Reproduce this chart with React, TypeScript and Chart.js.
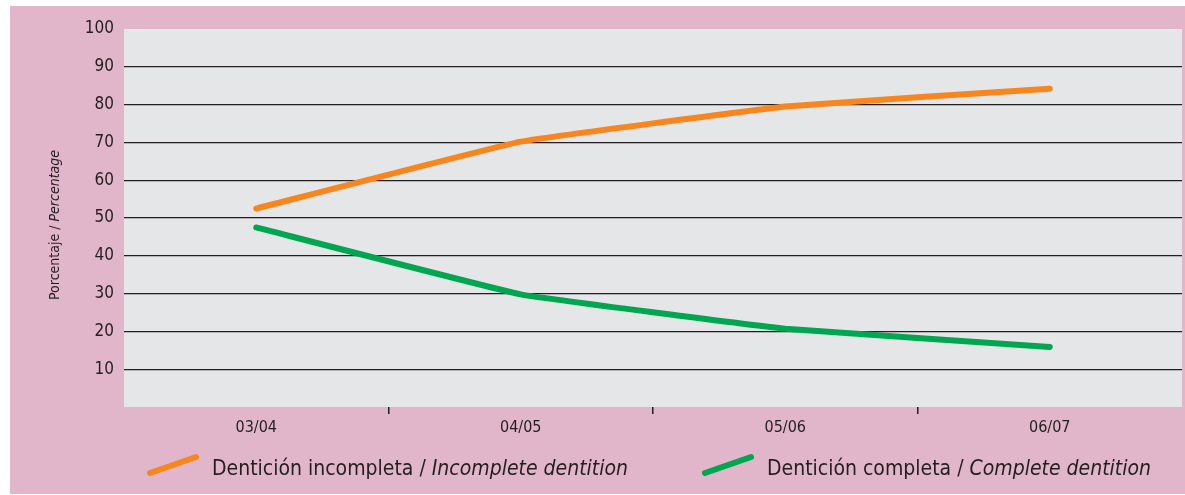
import React, { useEffect, useRef } from "react";
import { Chart, registerables } from "chart.js";

Chart.register(...registerables);

const categories = ["03/04", "04/05", "05/06", "06/07"];
const incompleta = [52.5, 70.2, 79.5, 84.2];
const completa = [47.5, 29.8, 20.7, 15.9];
const yTicks = [10, 20, 30, 40, 50, 60, 70, 80, 90, 100];
const legendItems = [
  { es: "Dentición incompleta / ", en: "Incomplete dentition", color: "#f7861f" },
  { es: "Dentición completa / ", en: "Complete dentition", color: "#00a650" },
];
const yTitleEs = "Porcentaje / ";
const yTitleEn = "Percentage";

const FONT = "'Liberation Sans Narrow', 'DejaVu Sans Condensed', 'Roboto', sans-serif";
const PINK = "#e1b6ca";
const PLOT_BG = "#e5e6e8";
const TEXT = "#231f20";

const decorPlugin = {
  id: "decor",
  beforeDraw(chart: any) {
    const { ctx, chartArea, width, height } = chart;
    ctx.save();
    ctx.fillStyle = PINK;
    ctx.fillRect(0, 0, width, height);
    ctx.fillStyle = PLOT_BG;
    ctx.fillRect(chartArea.left, chartArea.top, chartArea.right - chartArea.left, chartArea.bottom - chartArea.top);
    ctx.restore();
  },
  afterDraw(chart: any) {
    const { ctx } = chart;
    ctx.save();
    // y title
    ctx.translate(45, 219);
    ctx.rotate(-Math.PI / 2);
    ctx.fillStyle = TEXT;
    ctx.textBaseline = "middle";
    const f1 = `14px ${FONT}`;
    const f2 = `italic 14px ${FONT}`;
    ctx.font = f1;
    const w1 = ctx.measureText(yTitleEs).width;
    ctx.font = f2;
    const w2 = ctx.measureText(yTitleEn).width;
    const x = -(w1 + w2) / 2;
    ctx.font = f1;
    ctx.fillText(yTitleEs, x, 0);
    ctx.font = f2;
    ctx.fillText(yTitleEn, x + w1, 0);
    ctx.restore();

    // legend
    const starts = [140, 695];
    legendItems.forEach((it, i) => {
      const sx = starts[i];
      ctx.save();
      ctx.strokeStyle = it.color;
      ctx.lineWidth = 6;
      ctx.lineCap = "round";
      ctx.beginPath();
      ctx.moveTo(sx, 467);
      ctx.lineTo(sx + 46, 451);
      ctx.stroke();
      ctx.fillStyle = TEXT;
      ctx.textBaseline = "alphabetic";
      ctx.font = `21px ${FONT}`;
      const tx = sx + 62;
      ctx.fillText(it.es, tx, 469);
      const w = ctx.measureText(it.es).width;
      ctx.font = `italic 21px ${FONT}`;
      ctx.fillText(it.en, tx + w, 469);
      ctx.restore();
    });
  },
};

export default function App() {
  const ref = useRef<HTMLCanvasElement>(null);
  useEffect(() => {
    if (!ref.current) return;
    const chart = new Chart(ref.current, {
      type: "line",
      data: {
        labels: categories,
        datasets: [
          {
            label: legendItems[0].es + legendItems[0].en,
            data: incompleta,
            borderColor: legendItems[0].color,
            backgroundColor: legendItems[0].color,
            borderWidth: 6,
            pointRadius: 0,
            tension: 0.08,
            borderCapStyle: "round",
            borderJoinStyle: "round",
          },
          {
            label: legendItems[1].es + legendItems[1].en,
            data: completa,
            borderColor: legendItems[1].color,
            backgroundColor: legendItems[1].color,
            borderWidth: 6,
            pointRadius: 0,
            tension: 0.08,
            borderCapStyle: "round",
            borderJoinStyle: "round",
          },
        ],
      },
      options: {
        animation: false,
        responsive: false,
        maintainAspectRatio: false,
        layout: { padding: { top: 23, right: 3, left: 0, bottom: 0 } },
        plugins: { legend: { display: false }, tooltip: { enabled: false } },
        scales: {
          x: {
            offset: true,
            border: { display: false },
            grid: {
              offset: true,
              drawOnChartArea: false,
              drawTicks: true,
              tickLength: 7,
              lineWidth: 1.5,
              color: (c: any) =>
                c.type !== "tick" || c.index === 0 ? "rgba(0,0,0,0)" : TEXT,
            },
            ticks: { color: TEXT, font: { family: FONT, size: 16 }, padding: 4 },
            afterFit: (s: any) => {
              s.height = 87;
            },
          },
          y: {
            min: 0,
            max: 100,
            border: { display: false },
            afterBuildTicks: (s: any) => {
              s.ticks = [0, ...yTicks].map((v) => ({ value: v }));
            },
            grid: {
              drawTicks: false,
              lineWidth: 1.2,
              color: (c: any) =>
                c.tick && (c.tick.value === 0 || c.tick.value === 100) ? "rgba(0,0,0,0)" : TEXT,
            },
            ticks: {
              color: TEXT,
              font: { family: FONT, size: 17 },
              padding: 10,
              callback: (v: any) => (v === 0 ? "" : String(v)),
            },
            afterFit: (s: any) => {
              s.width = 114;
            },
          },
        },
      },
      plugins: [decorPlugin],
    });
    return () => chart.destroy();
  }, []);
  return (
    <div style={{ position: "fixed", left: 10, top: 6, width: 1175, height: 488 }}>
      <canvas ref={ref} width={1175} height={488} style={{ width: 1175, height: 488, display: "block" }} />
    </div>
  );
}
